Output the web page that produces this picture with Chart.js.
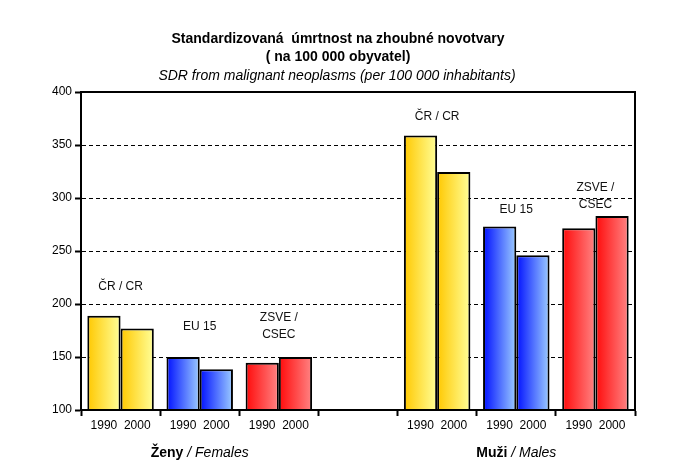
<!DOCTYPE html>
<html><head><meta charset="utf-8">
<script src="https://cdn.jsdelivr.net/npm/chart.js@4"></script>
<style>html,body{margin:0;padding:0;background:#fff}#wrap{width:699px;height:476px}</style>
</head><body><div id="wrap"><canvas id="c" width="699" height="476"></canvas></div>
<script>
// ---- data ----
const years = ['1990', '2000'];
const groupNames = ['ČR / CR', 'EU 15', 'ZSVE / CSEC', '', 'ČR / CR', 'EU 15', 'ZSVE / CSEC'];
const values1990 = [189, 150, 144.5, null, 359, 273, 271.5];
const values2000 = [177, 138.5, 150, null, 324.5, 246, 283];
const yTicks = [100, 150, 200, 250, 300, 350, 400];
const sexBold = ['Ženy', 'Muži'];
const sexItalic = [' / Females', ' / Males'];
const titleLines = ['Standardizovaná  úmrtnost na zhoubné novotvary', '( na 100 000 obyvatel)'];
const subtitle = 'SDR from malignant neoplasms (per 100 000 inhabitants)';

// ---- annotation anchors / styles ----
const groupLabelLines = [['ČR / CR'], ['EU 15'], ['ZSVE /', 'CSEC'], [], ['ČR / CR'], ['EU 15'], ['ZSVE /', 'CSEC']];
const groupLabelAt = [216, 179, 187, null, 377, 289, 309.5];
const sexSpans = [[0, 2], [4, 6]];
const palette = {
  yellow: ['#FFC800', '#FFFF99'],
  blue: ['#0010FF', '#9CCCFF'],
  red: ['#FF0A0A', '#FF8484']
};
const colorOf = ['yellow', 'blue', 'red', null, 'yellow', 'blue', 'red'];

const FONT = '"Liberation Sans", Arial, sans-serif';
const categories = groupNames.map(g => g ? years.join('  ') : '');
const CAT_PCT = 0.84;

function barFill(ctx) {
  const chart = ctx.chart;
  const key = colorOf[ctx.dataIndex];
  if (!key) return '#fff';
  const c = palette[key];
  const xs = chart.scales.x;
  if (!xs || !chart.chartArea) return c[0];
  const center = xs.getPixelForValue(ctx.dataIndex);
  const catW = xs.width / categories.length;
  const barW = catW * CAT_PCT / 2;
  const left = ctx.datasetIndex === 0 ? center - barW : center;
  const g = chart.ctx.createLinearGradient(left, 0, left + barW, 0);
  g.addColorStop(0, c[0]);
  g.addColorStop(1, c[1]);
  return g;
}

const barStyle = {
  categoryPercentage: CAT_PCT,
  barPercentage: 1,
  backgroundColor: barFill,
  borderColor: '#000',
  borderWidth: 2,
  borderSkipped: false
};

const overlay = {
  id: 'overlay',
  afterDatasetsDraw(chart) {
    const {ctx, chartArea: a, scales: {x, y}} = chart;
    ctx.save();
    ctx.strokeStyle = '#000';
    ctx.lineWidth = 2;
    ctx.strokeRect(a.left, a.top, a.right - a.left, a.bottom - a.top);
    ctx.fillStyle = '#111';
    ctx.font = '12px ' + FONT;
    ctx.textAlign = 'center';
    ctx.textBaseline = 'middle';
    groupLabelLines.forEach((lines, i) => {
      if (!lines.length) return;
      const px = x.getPixelForValue(i);
      const py = y.getPixelForValue(groupLabelAt[i]);
      lines.forEach((t, k) => ctx.fillText(t, px, py + k * 17));
    });
    ctx.restore();
  },
  afterDraw(chart) {
    const {ctx, scales: {x}} = chart;
    ctx.save();
    ctx.fillStyle = '#000';
    ctx.textBaseline = 'middle';
    ctx.textAlign = 'center';
    ctx.font = 'bold 14px ' + FONT;
    ctx.fillText(titleLines[0], 338, 39);
    ctx.fillText(titleLines[1], 338, 57);
    ctx.font = 'italic 14px ' + FONT;
    ctx.fillText(subtitle, 337, 76);
    sexSpans.forEach((s, i) => {
      const cx = (x.getPixelForValue(s[0]) + x.getPixelForValue(s[1])) / 2;
      ctx.font = 'bold 14px ' + FONT;
      const wb = ctx.measureText(sexBold[i]).width;
      ctx.font = 'italic 14px ' + FONT;
      const wi = ctx.measureText(sexItalic[i]).width;
      const start = cx - (wb + wi) / 2;
      ctx.textAlign = 'left';
      ctx.font = 'bold 14px ' + FONT;
      ctx.fillText(sexBold[i], start, 453);
      ctx.font = 'italic 14px ' + FONT;
      ctx.fillText(sexItalic[i], start + wb, 453);
    });
    ctx.restore();
  }
};

new Chart(document.getElementById('c'), {
  type: 'bar',
  data: {
    labels: categories,
    datasets: [
      Object.assign({label: years[0], data: values1990}, barStyle),
      Object.assign({label: years[1], data: values2000}, barStyle)
    ]
  },
  options: {
    responsive: false,
    animation: false,
    devicePixelRatio: 1,
    layout: {padding: {top: 92, right: 64, left: 0, bottom: 0}},
    plugins: {legend: {display: false}, tooltip: {enabled: false}, title: {display: false}, colors: {enabled: false}},
    scales: {
      x: {
        offset: true,
        afterFit: s => { s.height = 66; },
        grid: {display: true, drawOnChartArea: false, drawTicks: true, tickLength: 6, tickColor: '#000', tickWidth: 2, offset: true},
        border: {display: true, color: '#000', width: 2},
        ticks: {color: '#000', font: {size: 12, family: FONT}, padding: 2, maxRotation: 0, autoSkip: false}
      },
      y: {
        min: yTicks[0],
        max: yTicks[yTicks.length - 1],
        afterFit: s => { s.width = 81; },
        afterBuildTicks: s => { s.ticks = yTicks.map(v => ({value: v})); },
        grid: {
          color: c => (c.tick && (c.tick.value === yTicks[0] || c.tick.value === yTicks[yTicks.length - 1])) ? 'rgba(0,0,0,0)' : '#000',
          lineWidth: 1,
          tickLength: 6,
          tickColor: '#000',
          tickWidth: 2,
          tickBorderDash: []
        },
        border: {display: true, color: '#000', width: 2, dash: [4, 3]},
        ticks: {color: '#000', font: {size: 12, family: FONT}, padding: 3}
      }
    }
  },
  plugins: [overlay]
});
</script>
</body></html>
